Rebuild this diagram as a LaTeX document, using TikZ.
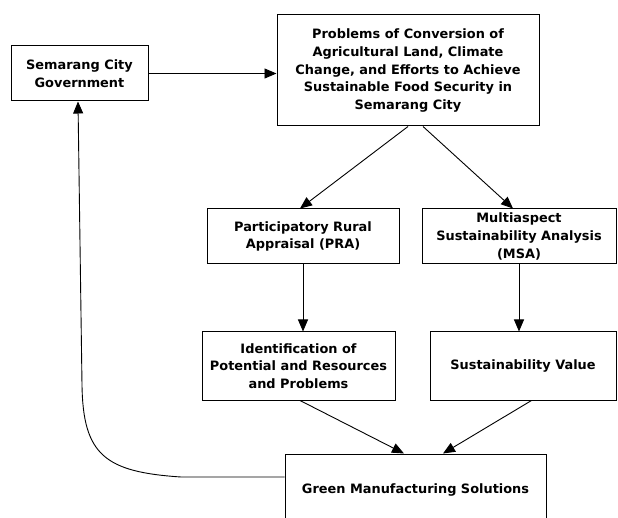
\documentclass[tikz,border=0pt]{standalone}
\usepackage{fontspec}
\setmainfont{DejaVu Sans}
\usepackage{tikz}
\usetikzlibrary{arrows.meta, positioning}

\begin{document}
\begin{tikzpicture}[
  x=1pt, y=-1pt,
  >={Triangle[length=12pt, width=10pt]},
  box/.style={draw, line width=1pt, align=center, inner sep=2pt,
    font=\bfseries\fontsize{12.9}{17.6}\selectfont},
  flow/.style={->, line width=0.9pt},
]

\useasboundingbox (0,0) rectangle (618,518);

% --- Boxes ---
\node[box, minimum width=137pt, minimum height=55pt] (gov) at (79.5, 73.5) {Semarang City\\Government};
\node[box, minimum width=262pt, minimum height=111pt] (prob) at (408, 70.5)
  {Problems of Conversion of\\Agricultural Land, Climate\\Change, and Efforts to Achieve\\Sustainable Food Security in\\Semarang City};
\node[box, minimum width=192pt, minimum height=55pt] (pra) at (303, 236.5) {Participatory Rural\\Appraisal (PRA)};
\node[box, minimum width=194pt, minimum height=55pt] (msa) at (519, 236.5) {Multiaspect\\Sustainability Analysis\\(MSA)};
\node[box, minimum width=193pt, minimum height=68pt] (ident) at (298.5, 366) {Identification of\\Potential and Resources\\and Problems};
\node[box, minimum width=186pt, minimum height=68pt] (sv) at (523, 366) {Sustainability Value};
\node[box, minimum width=261pt, minimum height=72pt] (green) at (415.5, 490) {Green Manufacturing Solutions};

% --- Connectors ---
\draw[flow] (gov.east) -- (gov.east -| prob.west);
\draw[flow] (prob.south) -- ([xshift=-3pt]pra.north);
\draw[flow] ([xshift=15pt]prob.south) -- ([xshift=-6pt]msa.north);
\draw[flow] (pra.south) -- (pra.south |- ident.north);
\draw[flow] (msa.south) -- (msa.south |- sv.north);
\draw[flow] ([xshift=1.5pt]ident.south) -- ([xshift=-11.5pt]green.north);
\draw[flow] ([xshift=8.5pt]sv.south) -- ([xshift=27.5pt]green.north);

% --- Feedback loop ---
\coordinate (bend) at (181, 477);
\draw[flow] ([yshift=13pt]green.west) -- (bend)
  .. controls (105, 472) and (83, 455) .. (82, 385)
  -- ([xshift=-1.5pt]gov.south);

\end{tikzpicture}
\end{document}
